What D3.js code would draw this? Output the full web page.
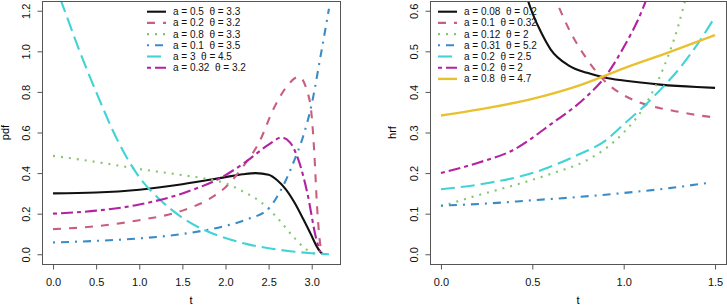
<!DOCTYPE html>
<html>
<head>
<meta charset="utf-8">
<script src="https://cdn.jsdelivr.net/npm/d3@7"></script>
<style>
body { margin: 0; background: #fff; }
svg { display: block; font-family: "Liberation Sans", Arial, sans-serif; }
.axis text { font-size: 11px; fill: #111; }
.axis line { stroke: #555; }
.legendText { font-size: 10px; fill: #111; white-space: pre; }
</style>
</head>
<body>
<div id="chart"></div>
<script>
//Left panel data: [t, pdf]
var pdfCurve1 = [[0,0.300],[0.5,0.304],[1.0,0.318],[1.5,0.345],[2.0,0.380],[2.2,0.394],[2.35,0.400],[2.5,0.392],[2.6,0.365],[2.7,0.320],[2.8,0.255],[2.9,0.175],[3.0,0.090],[3.05,0.045],[3.1,0.012],[3.13,0.0]];
var pdfCurve2 = [[0,0.124],[0.5,0.138],[1.0,0.168],[1.5,0.215],[1.8,0.270],[2.0,0.330],[2.2,0.430],[2.4,0.560],[2.55,0.710],[2.7,0.820],[2.85,0.875],[2.95,0.800],[3.0,0.680],[3.03,0.500],[3.06,0.250],[3.09,0.080],[3.12,0.0]];
var pdfCurve3 = [[0,0.485],[0.5,0.455],[1.0,0.420],[1.5,0.390],[1.8,0.370],[2.0,0.350],[2.2,0.310],[2.4,0.260],[2.6,0.180],[2.8,0.080],[2.95,0.020],[3.05,0.0]];
var pdfCurve4 = [[0,0.058],[0.5,0.066],[1.0,0.078],[1.5,0.100],[2.0,0.140],[2.25,0.172],[2.5,0.225],[2.6,0.285],[2.7,0.365],[2.8,0.465],[2.9,0.580],[3.0,0.740],[3.1,0.970],[3.2,1.210]];
var pdfCurve5 = [[0,1.350],[0.1,1.240],[0.3,1.010],[0.5,0.800],[0.75,0.560],[1.0,0.380],[1.25,0.265],[1.5,0.180],[1.75,0.120],[2.0,0.080],[2.25,0.050],[2.5,0.030],[2.75,0.015],[3.0,0.005],[3.2,0.0]];
var pdfCurve6 = [[0,0.200],[0.5,0.215],[1.0,0.245],[1.5,0.300],[2.0,0.390],[2.25,0.460],[2.5,0.540],[2.65,0.575],[2.75,0.550],[2.85,0.460],[2.95,0.300],[3.05,0.080],[3.1,0.010]];
var pdfLegend = ["a = 0.5  θ = 3.3","a = 0.2  θ = 3.2","a = 0.8  θ = 3.3","a = 0.1  θ = 3.5","a = 3  θ = 4.5","a = 0.32  θ = 3.2"];
var pdfTicksX = [0,0.5,1.0,1.5,2.0,2.5,3.0];
var pdfTicksY = [0,0.2,0.4,0.6,0.8,1.0,1.2];

//Right panel data: [t, hrf]
var hrfCurve1 = [[0.40,0.730],[0.45,0.660],[0.5,0.595],[0.55,0.545],[0.6,0.505],[0.7,0.465],[0.8,0.447],[0.9,0.435],[1.0,0.428],[1.2,0.418],[1.4,0.412],[1.5,0.410]];
var hrfCurve2 = [[0.58,0.680],[0.63,0.625],[0.7,0.555],[0.8,0.480],[0.9,0.425],[1.0,0.392],[1.1,0.372],[1.2,0.360],[1.3,0.351],[1.4,0.343],[1.5,0.337]];
var hrfCurve3 = [[0,0.118],[0.2,0.145],[0.4,0.170],[0.6,0.198],[0.8,0.232],[0.9,0.260],[1.0,0.300],[1.1,0.355],[1.2,0.440],[1.3,0.565],[1.35,0.650]];
var hrfCurve4 = [[0,0.120],[0.25,0.125],[0.5,0.133],[0.75,0.141],[1.0,0.151],[1.25,0.163],[1.48,0.177]];
var hrfCurve5 = [[0,0.160],[0.25,0.175],[0.5,0.200],[0.75,0.245],[0.9,0.280],[1.0,0.320],[1.1,0.360],[1.2,0.405],[1.3,0.455],[1.4,0.515],[1.5,0.585]];
var hrfCurve6 = [[0,0.200],[0.2,0.225],[0.4,0.258],[0.6,0.320],[0.8,0.390],[0.9,0.438],[1.0,0.510],[1.1,0.600],[1.15,0.660]];
var hrfCurve7 = [[0,0.342],[0.25,0.360],[0.5,0.383],[0.75,0.415],[1.0,0.458],[1.25,0.498],[1.5,0.540]];
var hrfLegend = ["a = 0.08  θ = 0.2","a = 0.1  θ = 0.32","a = 0.12  θ = 2","a = 0.31  θ = 5.2","a = 0.2  θ = 2.5","a = 0.2  θ = 2","a = 0.8  θ = 4.7"];
var hrfTicksX = [0,0.5,1.0,1.5];
var hrfTicksY = [0,0.1,0.2,0.3,0.4,0.5,0.6];

//Line styles (R palette, lty 1..6 at lwd 2)
var colors = ["#111111","#C95F7E","#86C56F","#3A8CC6","#42D3D6","#B3229F","#E9C12E"];
var dashes = [null,"8,8","2,6","2,6,8,6","14,6","4,4,12,4",null];

var width = 727;
var height = 307;

var svg = d3.select("#chart").append("svg")
	.attr("width", width)
	.attr("height", height);

function drawPanel(opts) {
	var box = opts.box;
	var xPad = (opts.xDomain[1] - opts.xDomain[0]) * 0.04;
	var yPad = (opts.yDomain[1] - opts.yDomain[0]) * 0.04;

	//Define scales (R style 4% padding)
	var xScale = d3.scaleLinear()
		.domain([opts.xDomain[0] - xPad, opts.xDomain[1] + xPad])
		.range([box.x0, box.x1]);
	var yScale = d3.scaleLinear()
		.domain([opts.yDomain[0] - yPad, opts.yDomain[1] + yPad])
		.range([box.y1, box.y0]);

	var g = svg.append("g");

	//Clip curves to the plot box
	g.append("clipPath")
		.attr("id", opts.id + "Clip")
		.append("rect")
		.attr("x", box.x0).attr("y", box.y0)
		.attr("width", box.x1 - box.x0).attr("height", box.y1 - box.y0);

	var line = d3.line()
		.x(function(d) { return xScale(d[0]); })
		.y(function(d) { return yScale(d[1]); })
		.curve(d3.curveMonotoneX);

	//Draw curves
	g.append("g")
		.attr("clip-path", "url(#" + opts.id + "Clip)")
		.selectAll("path")
		.data(opts.curves)
		.enter()
		.append("path")
		.attr("d", line)
		.attr("fill", "none")
		.attr("stroke", function(d, i) { return colors[i]; })
		.attr("stroke-width", function(d, i) { return i == 6 ? 2.4 : 2.1; })
		.attr("stroke-dasharray", function(d, i) { return dashes[i]; });

	//Box
	g.append("rect")
		.attr("x", box.x0 + 0.5).attr("y", box.y0 + 0.5)
		.attr("width", box.x1 - box.x0).attr("height", box.y1 - box.y0)
		.attr("fill", "none")
		.attr("stroke", "#555");

	//X axis
	var xAxis = g.append("g")
		.classed("axis", true)
		.attr("transform", "translate(0," + (box.y1 + 0.5) + ")")
		.call(d3.axisBottom(xScale).tickValues(opts.ticksX).tickSize(5).tickFormat(d3.format(".1f")));
	xAxis.select(".domain").remove();
	xAxis.selectAll("text").attr("y", 18).attr("dy", "0.35em");

	//Y axis
	var yAxis = g.append("g")
		.classed("axis", true)
		.attr("transform", "translate(" + (box.x0 + 0.5) + ",0)")
		.call(d3.axisLeft(yScale).tickValues(opts.ticksY).tickSize(5).tickFormat(d3.format(".1f")));
	yAxis.select(".domain").remove();
	yAxis.selectAll("text")
		.attr("x", null).attr("dy", "0.35em")
		.attr("transform", "translate(-16.5,0) rotate(-90)")
		.style("text-anchor", "middle");

	//Axis titles
	g.append("text")
		.attr("x", (box.x0 + box.x1) / 2)
		.attr("y", 300)
		.attr("dy", "0.35em")
		.attr("font-size", 11)
		.style("text-anchor", "middle")
		.text("t");
	g.append("text")
		.attr("transform", "translate(" + opts.yTitleX + "," + ((box.y0 + box.y1) / 2) + ") rotate(-90)")
		.attr("dy", "0.35em")
		.attr("font-size", 11)
		.style("text-anchor", "middle")
		.text(opts.yTitle);

	//Legend
	var legend = g.selectAll(".legendRow")
		.data(opts.legend)
		.enter()
		.append("g")
		.attr("transform", function(d, i) { return "translate(" + opts.legendX + "," + (11.7 + i * 11.2) + ")"; });
	legend.append("line")
		.attr("x1", 0).attr("x2", 19)
		.attr("stroke", function(d, i) { return colors[i]; })
		.attr("stroke-width", function(d, i) { return i == 6 ? 2.4 : 2.1; })
		.attr("stroke-dasharray", function(d, i) { return dashes[i]; });
	legend.append("text")
		.classed("legendText", true)
		.attr("x", 26)
		.attr("dy", "0.35em")
		.text(function(d) { return d; });
}

drawPanel({
	id: "pdf",
	box: {x0: 42, x1: 340, y0: 1, y1: 264},
	xDomain: [0, 3.2], yDomain: [0, 1.2],
	ticksX: pdfTicksX, ticksY: pdfTicksY,
	curves: [pdfCurve1, pdfCurve2, pdfCurve3, pdfCurve4, pdfCurve5, pdfCurve6],
	legend: pdfLegend, legendX: 147,
	yTitle: "pdf", yTitleX: 5
});

drawPanel({
	id: "hrf",
	box: {x0: 430, x1: 726, y0: 1, y1: 264},
	xDomain: [0, 1.5], yDomain: [0, 0.6],
	ticksX: hrfTicksX, ticksY: hrfTicksY,
	curves: [hrfCurve1, hrfCurve2, hrfCurve3, hrfCurve4, hrfCurve5, hrfCurve6, hrfCurve7],
	legend: hrfLegend, legendX: 438,
	yTitle: "hrf", yTitleX: 392
});
</script>
</body>
</html>
